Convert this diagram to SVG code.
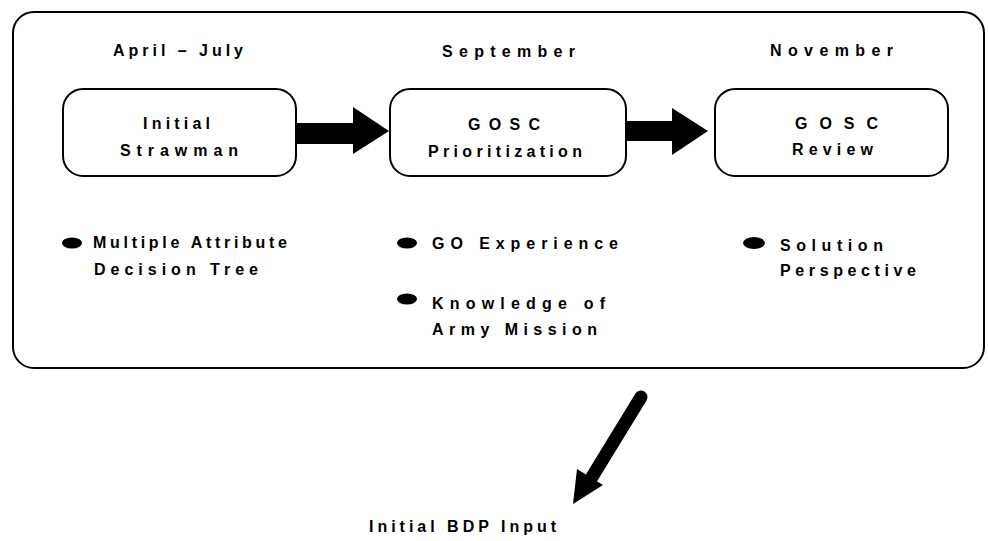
<svg xmlns="http://www.w3.org/2000/svg" width="988" height="541" viewBox="0 0 988 541">
  <style>
    .frame { fill: none; stroke: #000; stroke-width: 2; }
    .box { fill: #fff; stroke: #000; stroke-width: 2; }
    .lbl { font-family: "Liberation Sans", Arial, Helvetica, sans-serif; font-size: 16px; font-weight: bold; fill: #000; }
    .dot { fill: #000; }
    .arrow { fill: #000; stroke: none; }
  </style>
  <rect width="988" height="541" fill="#fff"/>

  <!-- outer frame -->
  <g id="frame">
    <rect class="frame" x="13" y="12" width="971" height="356" rx="21" ry="21"/>
  </g>

  <!-- phase headings -->
  <g id="heading-april-july">
    <text class="lbl" x="113" y="56" textLength="130" lengthAdjust="spacing">April – July</text>
  </g>
  <g id="heading-september">
    <text class="lbl" x="442" y="57" textLength="133" lengthAdjust="spacing">September</text>
  </g>
  <g id="heading-november">
    <text class="lbl" x="770" y="56" textLength="123" lengthAdjust="spacing">November</text>
  </g>

  <!-- process steps -->
  <g id="node-strawman">
    <rect class="box" x="63" y="89" width="233" height="87" rx="20" ry="20"/>
    <text class="lbl" x="143" y="129" textLength="67" lengthAdjust="spacing">Initial</text>
    <text class="lbl" x="120" y="156" textLength="118" lengthAdjust="spacing">Strawman</text>
  </g>
  <g id="node-prioritization">
    <rect class="box" x="390" y="89" width="236" height="87" rx="20" ry="20"/>
    <text class="lbl" x="468" y="130" textLength="72" lengthAdjust="spacing">GOSC</text>
    <text class="lbl" x="428" y="157" textLength="154" lengthAdjust="spacing">Prioritization</text>
  </g>
  <g id="node-review">
    <rect class="box" x="715" y="89" width="233" height="87" rx="20" ry="20"/>
    <text class="lbl" x="795" y="129" textLength="83" lengthAdjust="spacing">GOSC</text>
    <text class="lbl" x="792" y="155" textLength="81" lengthAdjust="spacing">Review</text>
  </g>

  <!-- bullet notes -->
  <g id="notes-strawman">
    <ellipse class="dot" cx="72" cy="243" rx="10" ry="5.5"/>
    <text class="lbl" x="93" y="248" textLength="194" lengthAdjust="spacing">Multiple Attribute</text>
    <text class="lbl" x="94" y="275" textLength="164" lengthAdjust="spacing">Decision Tree</text>
  </g>
  <g id="notes-prioritization">
    <ellipse class="dot" cx="407" cy="243" rx="10" ry="5.5"/>
    <text class="lbl" x="432" y="249" textLength="186" lengthAdjust="spacing">GO Experience</text>
    <ellipse class="dot" cx="407" cy="299" rx="10" ry="5.5"/>
    <text class="lbl" x="432" y="309" textLength="173" lengthAdjust="spacing">Knowledge of</text>
    <text class="lbl" x="432" y="335" textLength="165" lengthAdjust="spacing">Army Mission</text>
  </g>
  <g id="notes-review">
    <ellipse class="dot" cx="754" cy="243" rx="11" ry="6"/>
    <text class="lbl" x="780" y="251" textLength="103" lengthAdjust="spacing">Solution</text>
    <text class="lbl" x="780" y="276" textLength="136" lengthAdjust="spacing">Perspective</text>
  </g>

  <!-- output label -->
  <g id="node-bdp-input">
    <text class="lbl" x="369" y="532" textLength="187" lengthAdjust="spacing">Initial BDP Input</text>
  </g>

  <!-- connectors: thick block arrows -->
  <g id="connectors">
    <polygon class="arrow" points="296,123 353,123 353,107 389,131 353,154 353,144 296,144"/>
    <polygon class="arrow" points="626,121 672,121 672,108 708,131 672,155 672,141 626,141"/>
    <line x1="641" y1="397" x2="592" y2="477" stroke="#000" stroke-width="13" stroke-linecap="round"/>
    <polygon class="arrow" points="603,485 573,504 577,469"/>
  </g>
</svg>
